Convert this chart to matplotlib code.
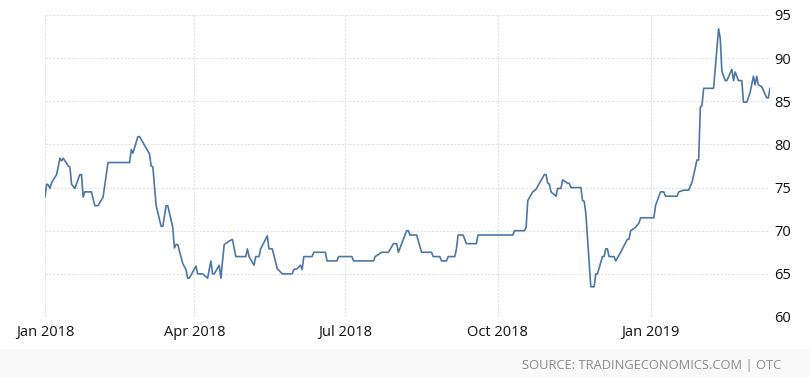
import matplotlib
matplotlib.use("Agg")
import matplotlib.pyplot as plt
import matplotlib.dates as mdates
import numpy as np
from matplotlib.patches import Rectangle

# price series
dates = [
    "2018-01-01", "2018-01-02", "2018-01-03", "2018-01-04", "2018-01-05", "2018-01-08",
    "2018-01-10", "2018-01-11", "2018-01-12", "2018-01-15", "2018-01-16", "2018-01-17",
    "2018-01-19", "2018-01-22", "2018-01-23", "2018-01-24", "2018-01-25", "2018-01-29",
    "2018-01-31", "2018-02-02", "2018-02-05", "2018-02-08", "2018-02-21", "2018-02-22",
    "2018-02-23", "2018-02-26", "2018-02-27", "2018-03-02", "2018-03-05", "2018-03-06",
    "2018-03-07", "2018-03-09", "2018-03-12", "2018-03-13", "2018-03-15", "2018-03-16",
    "2018-03-19", "2018-03-20", "2018-03-21", "2018-03-22", "2018-03-25", "2018-03-27",
    "2018-03-28", "2018-03-29", "2018-04-02", "2018-04-03", "2018-04-06", "2018-04-09",
    "2018-04-11", "2018-04-12", "2018-04-13", "2018-04-16", "2018-04-17", "2018-04-19",
    "2018-04-22", "2018-04-24", "2018-04-26", "2018-05-02", "2018-05-03", "2018-05-04",
    "2018-05-07", "2018-05-08", "2018-05-10", "2018-05-11", "2018-05-15", "2018-05-16",
    "2018-05-18", "2018-05-21", "2018-05-24", "2018-05-30", "2018-05-31", "2018-06-02",
    "2018-06-04", "2018-06-05", "2018-06-06", "2018-06-11", "2018-06-12", "2018-06-19",
    "2018-06-20", "2018-06-26", "2018-06-27", "2018-07-05", "2018-07-06", "2018-07-18",
    "2018-07-19", "2018-07-23", "2018-07-27", "2018-07-30", "2018-08-01", "2018-08-02",
    "2018-08-07", "2018-08-08", "2018-08-09", "2018-08-13", "2018-08-16", "2018-08-22",
    "2018-08-23", "2018-08-27", "2018-08-28", "2018-08-31", "2018-09-01", "2018-09-05",
    "2018-09-06", "2018-09-07", "2018-09-10", "2018-09-12", "2018-09-18", "2018-09-19",
    "2018-10-10", "2018-10-11", "2018-10-17", "2018-10-18", "2018-10-19", "2018-10-22",
    "2018-10-24", "2018-10-26", "2018-10-29", "2018-10-30", "2018-10-31", "2018-11-01",
    "2018-11-02", "2018-11-05", "2018-11-06", "2018-11-08", "2018-11-09", "2018-11-12",
    "2018-11-13", "2018-11-14", "2018-11-20", "2018-11-21", "2018-11-22", "2018-11-23",
    "2018-11-26", "2018-11-28", "2018-11-29", "2018-11-30", "2018-12-03", "2018-12-04",
    "2018-12-05", "2018-12-06", "2018-12-07", "2018-12-10", "2018-12-11", "2018-12-14",
    "2018-12-18", "2018-12-19", "2018-12-20", "2018-12-23", "2018-12-25", "2018-12-26",
    "2019-01-03", "2019-01-04", "2019-01-07", "2019-01-09", "2019-01-10", "2019-01-17",
    "2019-01-18", "2019-01-21", "2019-01-24", "2019-01-26", "2019-01-29", "2019-01-30",
    "2019-01-31", "2019-02-01", "2019-02-02", "2019-02-08", "2019-02-11", "2019-02-12",
    "2019-02-13", "2019-02-15", "2019-02-16", "2019-02-19", "2019-02-20", "2019-02-21",
    "2019-02-23", "2019-02-25", "2019-02-26", "2019-02-28", "2019-03-02", "2019-03-04",
    "2019-03-05", "2019-03-06", "2019-03-07", "2019-03-09", "2019-03-12", "2019-03-13",
    "2019-03-14",
]
values = [
    73.9, 75.4, 75.3, 74.9, 75.6, 76.5,
    78.4, 78.1, 78.4, 77.5, 77.4, 75.4,
    74.9, 76.5, 76.5, 73.9, 74.5, 74.5,
    72.9, 72.9, 73.9, 77.9, 77.9, 79.4,
    79.0, 80.9, 80.9, 79.9, 78.9, 77.5,
    77.4, 72.9, 70.5, 70.5, 72.9, 72.9,
    70.4, 68.0, 68.4, 68.4, 66.2, 65.5,
    64.5, 64.5, 65.9, 65.0, 65.0, 64.5,
    66.5, 65.0, 65.0, 66.0, 64.5, 68.4,
    68.8, 69.0, 67.0, 67.0, 67.9, 67.0,
    66.0, 67.0, 67.0, 67.9, 69.4, 67.9,
    67.9, 65.6, 65.0, 65.0, 65.5, 65.6,
    66.0, 65.5, 67.0, 67.0, 67.5, 67.5,
    66.5, 66.5, 67.0, 67.0, 66.5, 66.5,
    67.0, 67.5, 67.5, 68.5, 68.5, 67.5,
    70.0, 70.0, 69.5, 69.5, 67.5, 67.5,
    67.0, 67.0, 66.5, 66.5, 67.0, 67.0,
    67.9, 69.5, 69.5, 68.5, 68.5, 69.5,
    69.5, 70.0, 70.0, 70.4, 73.5, 74.5,
    74.8, 75.5, 76.5, 76.5, 75.5, 75.4,
    74.5, 74.0, 74.9, 74.9, 75.9, 75.5,
    75.5, 75.0, 75.0, 73.5, 73.4, 72.0,
    63.5, 63.5, 65.0, 65.0, 67.0, 67.0,
    67.9, 67.9, 67.0, 67.0, 66.5, 67.5,
    69.0, 69.0, 70.0, 70.4, 70.9, 71.5,
    71.5, 72.9, 74.5, 74.5, 74.0, 74.0,
    74.5, 74.7, 74.7, 75.6, 78.2, 78.2,
    84.3, 84.5, 86.5, 86.5, 93.4, 92.3,
    88.5, 87.4, 87.4, 88.7, 87.4, 88.4,
    87.4, 87.4, 84.9, 84.9, 86.0, 87.9,
    86.9, 87.9, 86.9, 86.7, 85.4, 85.4,
    86.5,
]
yticks = [60, 65, 70, 75, 80, 85, 90, 95]
xticks = ["2018-01-01", "2018-04-01", "2018-07-01", "2018-10-01", "2019-01-01"]
source = "SOURCE: TRADINGECONOMICS.COM | OTC"

x = np.array(dates, dtype="datetime64[D]")

plt.rcParams['font.family'] = ['Open Sans', 'DejaVu Sans']

fig = plt.figure(figsize=(8.10, 3.77), dpi=100)
# light footer strip
fig.patches.append(Rectangle((0, 0), 1, 0.075, transform=fig.transFigure,
                             facecolor="#f9f9f9", edgecolor="none", zorder=0))
ax = fig.add_axes([45/810, 1-317/377, (770-45)/810, (317-15)/377])

ax.plot(x, values, color="#4a78a6", lw=1.2, zorder=3)

ax.set_xlim(np.datetime64("2018-01-01"), np.datetime64("2019-03-14"))
ax.set_ylim(60, 95)
ax.set_yticks(yticks)
ax.set_xticks(np.array(xticks, dtype="datetime64[D]"))
ax.xaxis.set_major_formatter(mdates.DateFormatter("%b %Y"))
ax.yaxis.tick_right()
ax.tick_params(axis="both", length=0, labelsize=10.5, colors="#111111")
ax.tick_params(axis="y", pad=3)
ax.tick_params(axis="x", pad=6)

ax.grid(True, color="#e6e6e6", lw=0.9, ls=(0, (2, 1)))
for s in ax.spines.values():
    s.set_visible(False)

fig.text(781/810, 1-366/377, source, ha="right", va="center", fontsize=9.3,
         color="#8a8a8a")

fig.savefig("out.png", dpi=100)
